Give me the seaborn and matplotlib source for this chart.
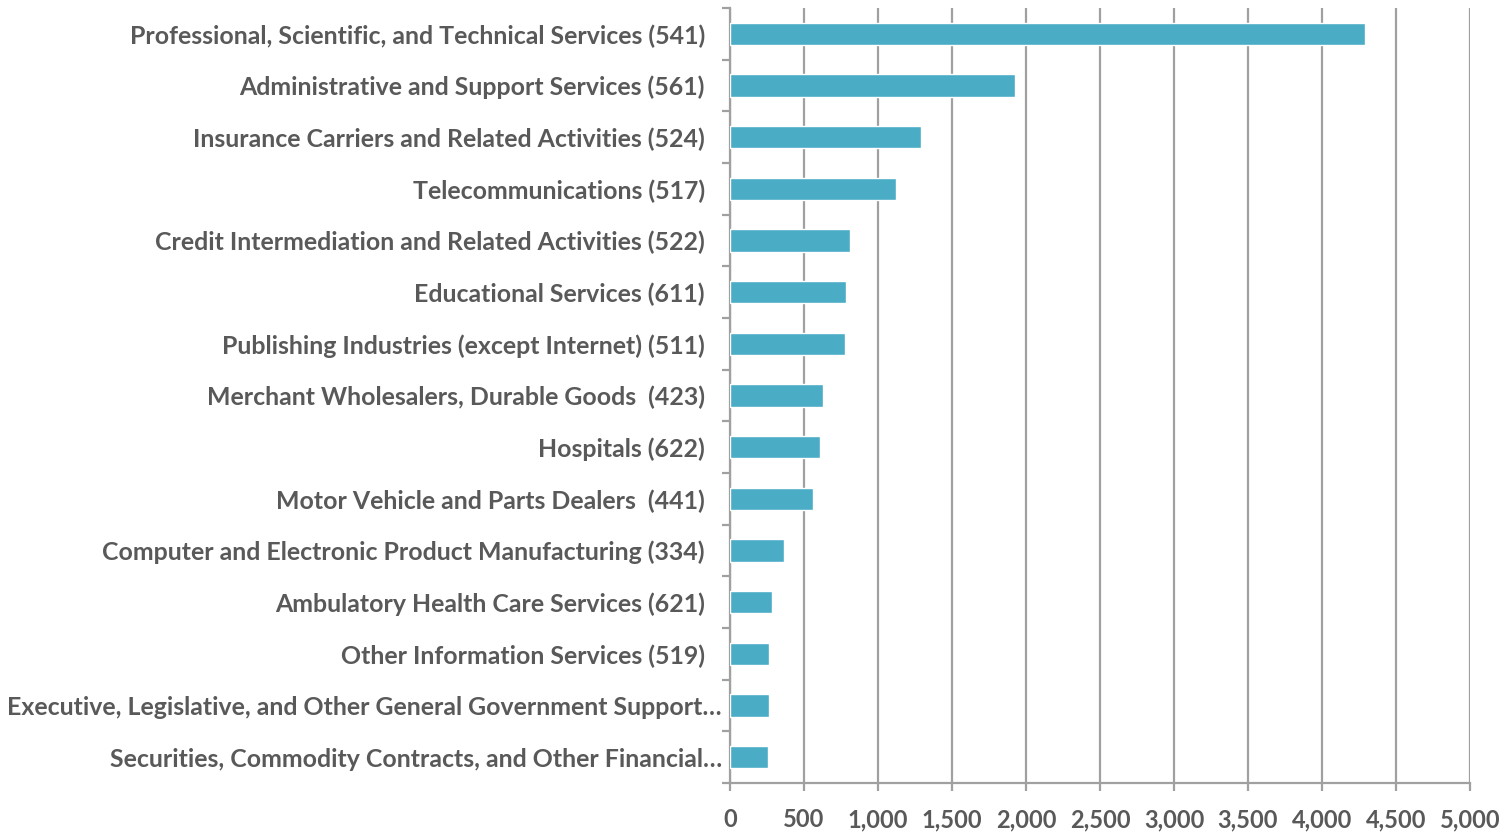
import numpy as np
import pandas as pd
import matplotlib
matplotlib.use('Agg')
import matplotlib.pyplot as plt
import matplotlib.transforms as mtransforms
import seaborn as sns

# data
industries = [
    'Professional, Scientific, and Technical Services (541)',
    'Administrative and Support Services (561)',
    'Insurance Carriers and Related Activities (524)',
    'Telecommunications (517)',
    'Credit Intermediation and Related Activities (522)',
    'Educational Services (611)',
    'Publishing Industries (except Internet) (511)',
    'Merchant Wholesalers, Durable Goods  (423)',
    'Hospitals (622)',
    'Motor Vehicle and Parts Dealers  (441)',
    'Computer and Electronic Product Manufacturing (334)',
    'Ambulatory Health Care Services (621)',
    'Other Information Services (519)',
    'Executive, Legislative, and Other General Government Support\u2026',
    'Securities, Commodity Contracts, and Other Financial\u2026',
]
counts = [4290, 1926, 1290, 1122, 811, 784, 777, 628, 608, 561, 365, 284, 264, 262, 257]
x_ticks = [0, 500, 1000, 1500, 2000, 2500, 3000, 3500, 4000, 4500, 5000]

df = pd.DataFrame({'industry': industries, 'count': counts})

sns.set_style('white')
plt.rcParams['font.family'] = ['Lato', 'DejaVu Sans']
grey_txt = '#595959'
grey_line = '#A0A0A0'

fig = plt.figure(figsize=(15.06, 8.32), dpi=100)
ax = fig.add_axes([0.4847, 0.0589, 0.9761 - 0.4847, 0.9904 - 0.0589])

sns.barplot(data=df, x='count', y='industry', color='#4BACC6', saturation=1,
            width=0.43, ax=ax, zorder=3)

ax.set_xlim(0, 5000)
ax.set_ylim(len(industries) - 0.5, -0.5)
ax.set_xticks(x_ticks)
ax.set_xticklabels([f'{v:,}' for v in x_ticks])
ax.xaxis.grid(True, color=grey_line, linewidth=1.6, zorder=0)
ax.yaxis.grid(False)
ax.set_xlabel('')
ax.set_ylabel('')

for s in ['top', 'right']:
    ax.spines[s].set_visible(False)
for s in ['left', 'bottom']:
    ax.spines[s].set_color(grey_line)
    ax.spines[s].set_linewidth(1.6)

# Excel style ticks between categories
ax.set_yticks(np.arange(-0.5, len(industries), 1.0), minor=True)
ax.tick_params(axis='y', which='major', length=0, pad=18,
               labelsize=17.9, labelcolor=grey_txt)
ax.tick_params(axis='y', which='minor', length=6, width=1.6, color=grey_line,
               direction='out', left=True)
ax.tick_params(axis='x', which='major', length=6, width=1.6, color=grey_line,
               direction='out', bottom=True, labelsize=17, labelcolor=grey_txt, pad=12)
for lab in ax.get_xticklabels() + ax.get_yticklabels():
    lab.set_fontweight('bold')

# truncated labels sit a bit closer to the axis, like in Excel
shift = mtransforms.ScaledTranslation(17 / 100, 0, fig.dpi_scale_trans)
for lab in ax.get_yticklabels():
    if lab.get_text().endswith('\u2026'):
        lab.set_transform(lab.get_transform() + shift)

fig.savefig('out.png', dpi=100)
